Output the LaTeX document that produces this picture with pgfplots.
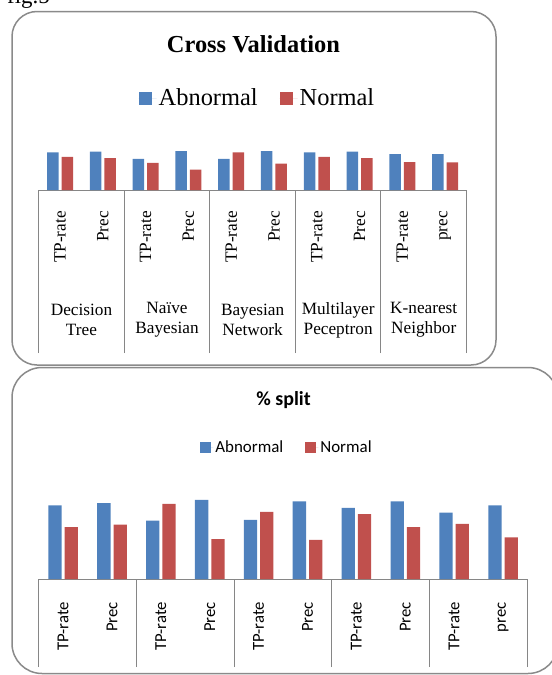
\documentclass[border=0pt]{standalone}
\usepackage{fontspec}
\setmainfont{Liberation Serif}
\newfontfamily\calibri{Carlito}
\usepackage{pgfplots}
\pgfplotsset{compat=1.18}
\definecolor{cblue}{HTML}{4F81BD}
\definecolor{cred}{HTML}{C0504D}
\definecolor{framegray}{HTML}{8A8A8A}
\definecolor{axgray}{HTML}{868686}
\pgfplotsset{
  mybars/.style={
    scale only axis, anchor=south west,
    ybar, ymin=0, ymax=1, xmin=0.5, xmax=10.5,
    axis y line=none, axis x line*=bottom,
    axis line style={axgray, line width=1bp},
    xtick={1,...,10},
    xticklabels={TP-rate,Prec,TP-rate,Prec,TP-rate,Prec,TP-rate,Prec,TP-rate,prec},
    major tick length=0pt,
    minor xtick={0.5,2.5,4.5,6.5,8.5,10.5},
    tick align=outside,
    minor tick style={axgray, line width=1bp},
    clip=false,
    legend columns=2,
    legend style={draw=none, fill=none, anchor=center,
      /tikz/every even column/.append style={column sep=20bp}},
  }
}
\begin{document}
\begin{tikzpicture}
\useasboundingbox (0,0) rectangle (552bp,-675bp);
\node[anchor=base west, inner sep=0pt, font=\fontsize{23}{27}\selectfont] at (7bp,-3bp) {fig.5};
\draw[framegray, line width=1.5bp, rounded corners=25bp] (12bp,-11.5bp) rectangle (496bp,-365bp);
\draw[framegray, line width=1.5bp, rounded corners=30bp] (12bp,-367.5bp) rectangle (558bp,-673.5bp);

% ---------- Cross Validation ----------
\begin{axis}[mybars, at={(38.7bp,-190bp)}, width=427.8bp, height=40bp,
  bar width=11.5bp, ybar=3bp, minor tick length=163bp,
  xticklabel style={yshift=-21bp, rotate=90, anchor=east, inner sep=0pt,
    font=\fontsize{17.3}{20}\selectfont},
  title={\textbf{Cross Validation}},
  title style={at={(0.502,3.5)}, anchor=center, font=\fontsize{24.5}{29}\selectfont},
  legend style={at={(0.5114,2.3)}, font=\fontsize{24.5}{29}\selectfont},
  legend image code/.code={\fill[#1] (0bp,-6.5bp) rectangle (13bp,6.5bp); \path (0bp,0bp) -- (18bp,0bp);},
]
\addplot[fill=cblue, draw=none] coordinates {(1,0.94) (2,0.96) (3,0.78) (4,0.97) (5,0.78) (6,0.97) (7,0.94) (8,0.96) (9,0.90) (10,0.90)};
\addplot[fill=cred, draw=none] coordinates {(1,0.83) (2,0.80) (3,0.68) (4,0.51) (5,0.94) (6,0.66) (7,0.83) (8,0.80) (9,0.70) (10,0.69)};
\legend{Abnormal, Normal}
\node[align=center, yshift=-130bp, font=\fontsize{17.3}{20}\selectfont] at (axis cs:1.5,0) {Decision\\Tree};
\node[align=center, yshift=-130bp, font=\fontsize{17.3}{20}\selectfont] at (axis cs:3.5,0) {Naïve\\Bayesian};
\node[align=center, yshift=-130bp, font=\fontsize{17.3}{20}\selectfont] at (axis cs:5.5,0) {Bayesian\\Network};
\node[align=center, yshift=-130bp, font=\fontsize{17.3}{20}\selectfont] at (axis cs:7.5,0) {Multilayer\\Peceptron};
\node[align=center, yshift=-130bp, font=\fontsize{17.3}{20}\selectfont] at (axis cs:9.5,0) {K-nearest\\Neighbor};
\end{axis}

% ---------- % split ----------
\begin{axis}[mybars, at={(38.7bp,-579bp)}, width=488.8bp, height=80bp,
  bar width=13.3bp, ybar=3bp, minor tick length=88bp,
  xticklabel style={yshift=-23bp, rotate=90, anchor=east, inner sep=0pt,
    font=\calibri\fontsize{16.8}{20}\selectfont},
  title={\textbf{\% split}},
  title style={at={(0.501,2.16)}, anchor=center, font=\calibri\fontsize{20}{24}\selectfont},
  legend style={at={(0.508,1.641)}, font=\calibri\fontsize{17}{20}\selectfont},
  legend image code/.code={\fill[#1] (0bp,-5.5bp) rectangle (11bp,5.5bp); \path (0bp,0bp) -- (13bp,0bp);},
]
\addplot[fill=cblue, draw=none] coordinates {(1,0.92) (2,0.95) (3,0.73) (4,0.99) (5,0.74) (6,0.97) (7,0.89) (8,0.97) (9,0.83) (10,0.92)};
\addplot[fill=cred, draw=none] coordinates {(1,0.65) (2,0.68) (3,0.94) (4,0.50) (5,0.84) (6,0.49) (7,0.81) (8,0.65) (9,0.69) (10,0.52)};
\legend{Abnormal, Normal}
\end{axis}
\end{tikzpicture}
\end{document}
